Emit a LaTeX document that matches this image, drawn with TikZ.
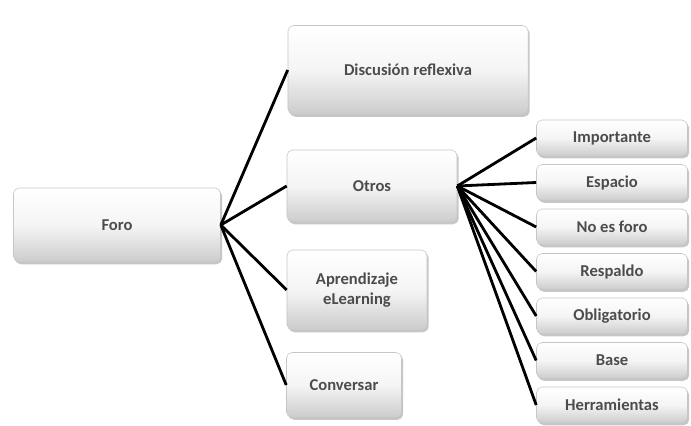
\documentclass[tikz,border=0pt]{standalone}
\usepackage{fontspec}
\setsansfont{Carlito}
\usetikzlibrary{shadows}
\tikzset{
    caja/.style={rectangle, rounded corners=4pt, draw=gray!45, line width=0.4pt,
        top color=white, bottom color=gray!40, middle color=gray!8,
        drop shadow={shadow xshift=1.2pt, shadow yshift=-1.6pt, opacity=0.45},
        font=\sffamily\bfseries\fontsize{11.8}{14}\selectfont, text=black!70, align=center},
    hoja/.style={caja, minimum width=3.775cm, minimum height=0.9cm},
    rama/.style={line width=2pt, black},
}

\begin{document}
\begin{tikzpicture}[x=0.025cm,y=-0.025cm]
\useasboundingbox (0,0) rectangle (691,426);
% nodes of the first level
\node[caja, minimum width=5.175cm, minimum height=1.85cm] (foro) at (117,225) {Foro};
\node[caja, minimum width=6cm, minimum height=2.225cm] (disc) at (408,70) {Discusi\'on reflexiva};
\node[caja, minimum width=4.25cm, minimum height=1.8cm] (otros) at (372,186) {Otros};
\node[caja, minimum width=3.5cm, minimum height=2cm] (apre) at (357,290) {Aprendizaje\\eLearning};
\node[caja, minimum width=2.875cm, minimum height=1.625cm] (conv) at (344,385) {Conversar};
\draw[rama] (foro.east) -- (disc.west);
\draw[rama] (foro.east) -- (otros.west);
\draw[rama] (foro.east) -- (apre.west);
\draw[rama] (foro.east) -- (conv.west);
% leaves of Otros
\foreach \txt/\nm [count=\k] in {Importante/imp, Espacio/esp, No es foro/nof,
    Respaldo/res, Obligatorio/obl, Base/bas, Herramientas/her}
{
    \node[hoja] (\nm) at (612,{138+44.5*(\k-1)}) {\txt};
    \draw[rama] (otros.east) -- (\nm.west);
}
\end{tikzpicture}
\end{document}
